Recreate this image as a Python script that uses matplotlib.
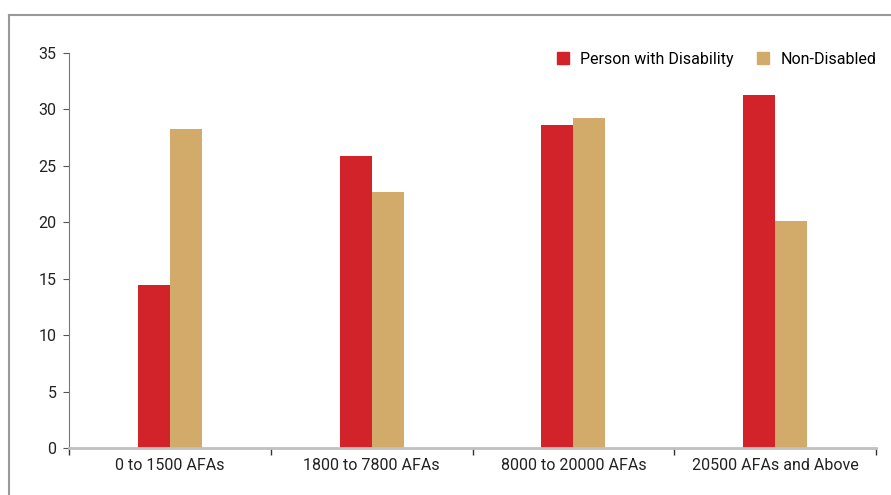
import matplotlib
matplotlib.use("Agg")
from matplotlib import pyplot as plt
from matplotlib.lines import Line2D
import numpy as np

categories = ["0 to 1500 AFAs", "1800 to 7800 AFAs", "8000 to 20000 AFAs", "20500 AFAs and Above"]
disabled = [14.4, 25.9, 28.6, 31.3]
non_disabled = [28.3, 22.7, 29.2, 20.1]

red = "#D2232A"
tan = "#D2AA69"

plt.rcParams['font.family'] = ['Roboto', 'DejaVu Sans']

fig = plt.figure(figsize=(8.91, 4.95), dpi=100)
W, H = 891, 495

# outer frame (left and top lines only)
fig.add_artist(Line2D([9 / W, 9 / W], [0, 1 - 15 / H], transform=fig.transFigure, color="#999999", lw=1.5))
fig.add_artist(Line2D([9 / W, 1], [1 - 15 / H, 1 - 15 / H], transform=fig.transFigure, color="#999999", lw=1.5))

ax = fig.add_axes([69 / W, (H - 448) / H, (876 - 69) / W, (448 - 53) / H])

x = np.arange(len(categories))
bw = 0.158
ax.bar(x - bw / 2, disabled, bw, color=red, label="Person with Disability")
ax.bar(x + bw / 2, non_disabled, bw, color=tan, label="Non-Disabled")

ax.set_xlim(-0.5, len(categories) - 0.5)
ax.set_ylim(0, 35)
ax.set_yticks(range(0, 36, 5))
ax.set_xticks(x)
ax.set_xticklabels(categories)
ax.set_xticks(np.arange(-0.5, len(categories), 1), minor=True)

for s in ["top", "right"]:
    ax.spines[s].set_visible(False)
ax.spines["left"].set_color("#777777")
ax.spines["left"].set_linewidth(0.8)
ax.spines["bottom"].set_color("#c0c0c0")
ax.spines["bottom"].set_linewidth(2)

ax.tick_params(axis="y", length=4, width=0.8, color="#555555", labelsize=11.5, labelcolor="#222222", pad=5)
ax.tick_params(axis="x", which="major", length=0, labelsize=11.5, labelcolor="#222222", pad=7)
ax.tick_params(axis="x", which="minor", length=5, width=1, color="#333333", direction="out")

handles = [
    Line2D([], [], marker="s", linestyle="None", markersize=8, color=red, label="Person with Disability"),
    Line2D([], [], marker="s", linestyle="None", markersize=8, color=tan, label="Non-Disabled"),
]
ax.legend(handles=handles, loc="upper right", ncol=2, frameon=False, fontsize=11.5,
          handletextpad=0.5, columnspacing=1.2, handlelength=1.2, bbox_to_anchor=(1.018, 1.04))

fig.savefig("out.png", dpi=100)
